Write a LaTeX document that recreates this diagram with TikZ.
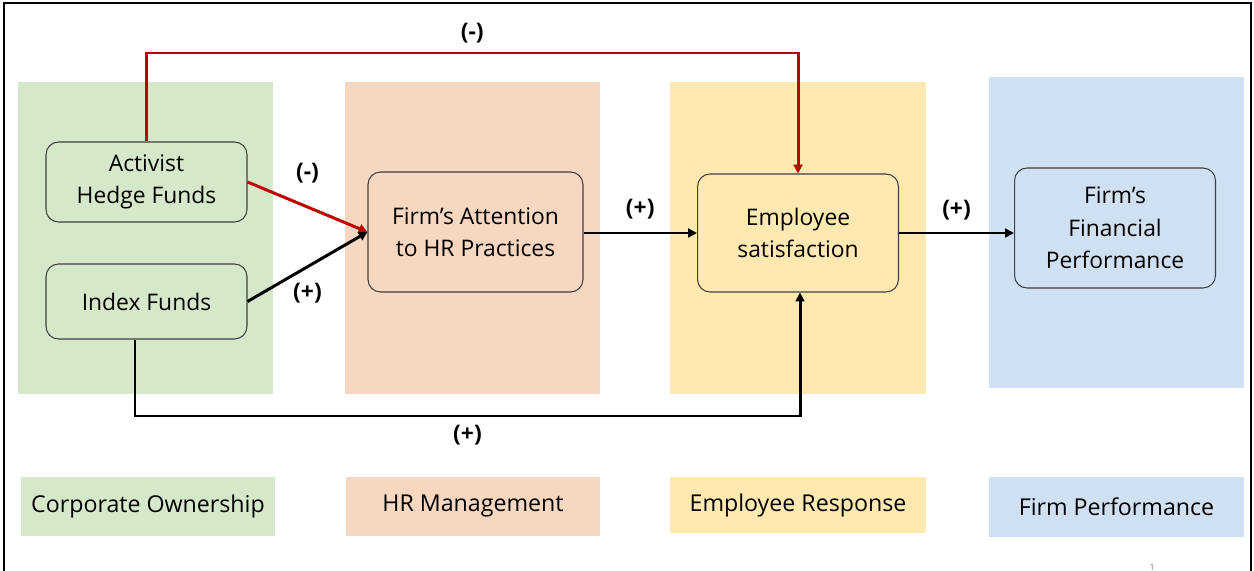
\documentclass[tikz,border=0pt]{standalone}
\usepackage{fontspec}
\setmainfont{Open Sans}
\usetikzlibrary{arrows.meta}

\definecolor{owngreen}{HTML}{D5E8C9}
\definecolor{hrorange}{HTML}{F8D7C0}
\definecolor{empyellow}{HTML}{FFE9B1}
\definecolor{perfblue}{HTML}{CFE0F2}
\definecolor{negred}{HTML}{C00000}

\begin{document}
\begin{tikzpicture}[
  x=0.02cm, y=-0.02cm,
  box/.style={draw=black!75,rounded corners=0.25cm,line width=0.6pt,align=center,
    inner sep=0pt,minimum width=4.02cm,font=\fontsize{13}{18.5}\selectfont},
  legend/.style={inner sep=0pt,minimum width=5.08cm,minimum height=1.18cm,
    font=\fontsize{13.2}{16}\selectfont},
  link/.style={line width=1.7pt,-{Triangle[length=5pt,width=5pt]}},
  neg/.style={link,draw=negred},
  sign/.style={inner sep=0pt,font=\fontsize{13}{16}\selectfont\bfseries}
]
\useasboundingbox (0,0) rectangle (1254,571);
\clip (0,0) rectangle (1254,571);
\draw[line width=1.3pt] (4,600) -- (4,3) -- (1251,3) -- (1251,600);

\fill[owngreen] (18,82) rectangle (273,394);
\fill[hrorange] (345,82) rectangle (600,394);
\fill[empyellow] (670,82) rectangle (926,394);
\fill[perfblue] (989,77) rectangle (1244,388);

\node[box,fill=owngreen,minimum height=1.6cm] (act) at (146.5,182) {Activist\\Hedge Funds};
\node[box,fill=owngreen,minimum height=1.5cm] (idx) at (146.5,301.5) {Index Funds};
\node[box,fill=hrorange,minimum width=4.3cm,minimum height=2.4cm] (att) at (475.5,232) {Firm’s Attention\\to HR Practices};
\node[box,fill=empyellow,minimum height=2.36cm] (emp) at (798,233) {Employee\\satisfaction};
\node[box,fill=perfblue,minimum height=2.4cm] (fin) at (1115,228) {Firm’s\\Financial\\Performance};

\node[legend,fill=owngreen] (own) at (148,506.5) {Corporate Ownership};
\node[legend,fill=hrorange] (hrm) at (473,506.5) {HR Management};
\node[legend,fill=empyellow,minimum width=5.12cm,minimum height=1.12cm] (resp) at (798,505) {Employee Response};
\node[legend,fill=perfblue,minimum width=5.1cm,minimum height=1.2cm] (perf) at (1116.5,507) {Firm Performance};

\coordinate (high) at (146.5,53);
\coordinate (low) at (135,416);

\draw[neg] (act.north) -- (high) -| node[sign,pos=0.25,above=0.17cm]{(-)} (emp.north);
\draw[neg] (act.east) -- node[sign,above=0.45cm]{(-)} (att.west);
\draw[link] (idx.east) -- node[sign,below=0.29cm]{(+)} (att.west);
\draw[link] (att.east |- 0,233) -- node[sign,above=0.25cm]{(+)} (emp.west |- 0,233);
\draw[link] (emp.east |- 0,233) -- node[sign,above=0.23cm]{(+)} (fin.west |- 0,233);
\draw[link] (idx.south -| low) -- (low) -| node[sign,pos=0.25,below=0.15cm]{(+)} (emp.south -| 800,0);

\node[font=\fontsize{5}{5}\selectfont,text=black!50] (page) at (1152,567) {1};
\end{tikzpicture}
\end{document}
